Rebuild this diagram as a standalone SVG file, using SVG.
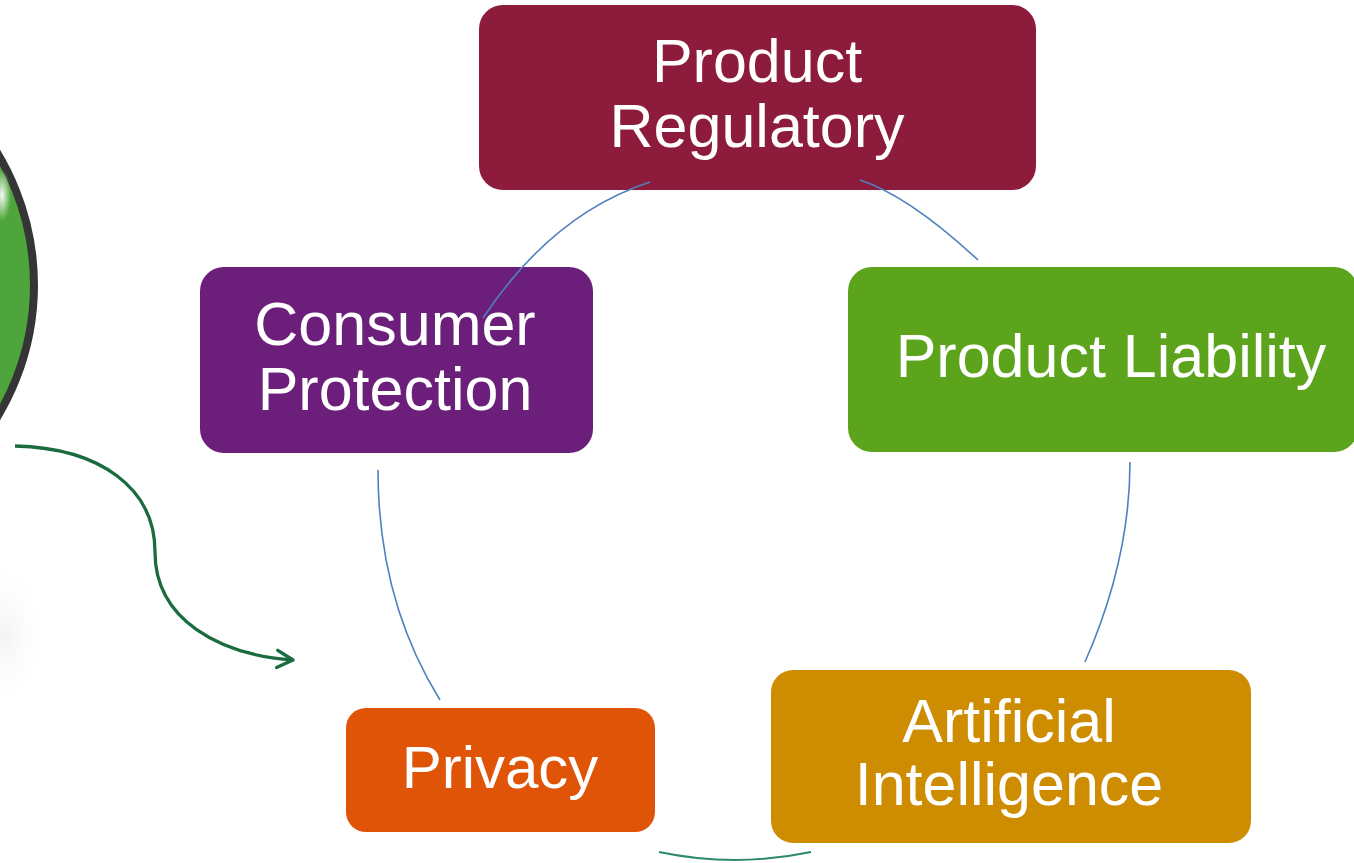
<svg xmlns="http://www.w3.org/2000/svg" width="1354" height="863" viewBox="0 0 1354 863">
  <defs>
    <style>
      .box text { font-family: "Liberation Sans", Arial, sans-serif; font-size: 61px; fill: #ffffff; text-anchor: middle; }
      .arc { fill: none; stroke: #4f81bd; stroke-width: 1.6; }
    </style>
    <radialGradient id="hl" cx="0.5" cy="0.5" r="0.5">
      <stop offset="0" stop-color="#ffffff" stop-opacity="0.95"/>
      <stop offset="1" stop-color="#ffffff" stop-opacity="0"/>
    </radialGradient>
    <radialGradient id="blob" cx="0.5" cy="0.5" r="0.5">
      <stop offset="0" stop-color="#f0f0f0" stop-opacity="0.8"/>
      <stop offset="1" stop-color="#ffffff" stop-opacity="0"/>
    </radialGradient>
    <marker id="chev" viewBox="0 0 20 20" refX="16" refY="10" markerWidth="8" markerHeight="8" orient="auto" markerUnits="strokeWidth">
      <path d="M4,3.5 L16,10 L4,16.5" fill="none" stroke="#1a6b3e" stroke-width="2.6" stroke-linecap="round" stroke-linejoin="round"/>
    </marker>
  </defs>
  <rect width="1354" height="863" fill="#ffffff"/>

  <g id="left-circle">
    <circle cx="-221" cy="285" r="255" fill="#4ea53b" stroke="#353535" stroke-width="8"/>
    <ellipse cx="2" cy="195" rx="9" ry="26" fill="url(#hl)"/>
  </g>
  <g id="faint-shape">
    <ellipse cx="5" cy="635" rx="42" ry="78" fill="url(#blob)"/>
  </g>

  <g id="node-product-regulatory" class="box">
    <rect x="479" y="5" width="557" height="185" rx="24" fill="#8c1b3c"/>
    <text x="757" y="82">Product</text>
    <text x="757" y="147">Regulatory</text>
  </g>
  <g id="node-consumer-protection" class="box">
    <rect x="200" y="267" width="393" height="186" rx="24" fill="#6b1f7b"/>
    <text x="395" y="345">Consumer</text>
    <text x="395" y="410">Protection</text>
  </g>
  <g id="node-product-liability" class="box">
    <rect x="848" y="267" width="510" height="185" rx="24" fill="#5ba41b"/>
    <text x="1111" y="377">Product Liability</text>
  </g>
  <g id="node-privacy" class="box">
    <rect x="346" y="708" width="309" height="124" rx="20" fill="#e05407"/>
    <text x="500" y="788" style="font-size:60px">Privacy</text>
  </g>
  <g id="node-artificial-intelligence" class="box">
    <rect x="771" y="670" width="480" height="173" rx="22" fill="#ce8d00"/>
    <text x="1009" y="742">Artificial</text>
    <text x="1009" y="805">Intelligence</text>
  </g>

  <g id="connectors">
    <path class="arc" d="M650,182 Q552,214 483,318"/>
    <path class="arc" d="M860,180 Q909,196 978,260"/>
    <path class="arc" d="M1130,462 Q1130,560 1085,662"/>
    <path class="arc" d="M378,470 Q378,600 440,700"/>
    <path d="M659,852 Q735,868 811,852" fill="none" stroke="#2e8a66" stroke-width="2"/>
    <path d="M15,446 C100,448 155,488 155,552 C155,620 220,655 293,660" fill="none" stroke="#1a6b3e" stroke-width="3.3" marker-end="url(#chev)"/>
  </g>
</svg>
